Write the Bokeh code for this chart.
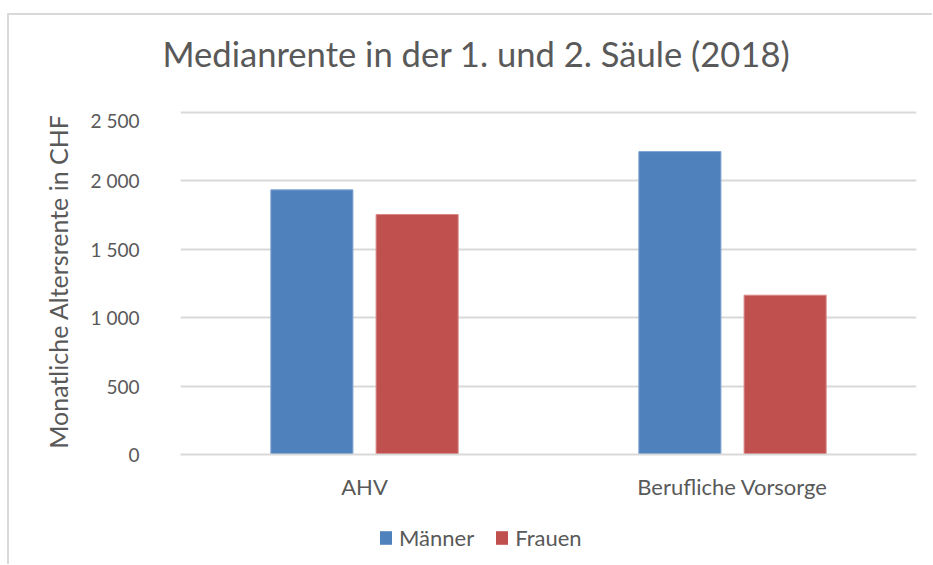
from bokeh.plotting import figure
from bokeh.layouts import column
from bokeh.models import FactorRange, Legend, LegendItem, ColumnDataSource, FixedTicker
from bokeh.transform import dodge
from bokeh.embed import file_html
from bokeh.resources import INLINE

# ---- data ----
categories = ["AHV", "Berufliche Vorsorge"]
maenner = [1935, 2215]
frauen = [1755, 1165]
series_names = ["Männer", "Frauen"]
y_ticks = [0, 500, 1000, 1500, 2000, 2500]
y_tick_labels = ["0", "500", "1 000", "1 500", "2 000", "2 500"]
title_text = "Medianrente in der 1. und 2. Säule (2018)"
y_label = "Monatliche Altersrente in CHF"

FONT = "Lato"
TXT = "#595959"
GRID = "#D9D9D9"
BLUE = "#4F81BD"
RED = "#C0504D"
W = 923

src = ColumnDataSource(dict(cat=categories, m=maenner, f=frauen))

# ---- title strip ----
pt = figure(width=W, height=93, x_axis_type=None, y_axis_type=None,
            output_backend="svg", toolbar_location=None, min_border=0,
            min_border_left=171, min_border_right=16)
pt.outline_line_color = None
pt.xgrid.grid_line_color = None
pt.ygrid.grid_line_color = None
pt.title.text = title_text
pt.title.align = "left"
pt.title.offset = -18
pt.title.text_font = FONT
pt.title.text_font_size = "34.6px"
pt.title.text_font_style = "normal"
pt.title.text_color = TXT
pt.title.standoff = 30

# ---- main chart ----
p = figure(
    x_range=FactorRange(*categories, range_padding=0),
    y_range=(0, 2530),
    width=W, height=412, title=None,
    output_backend="svg", toolbar_location=None,
    min_border_left=171, min_border_right=16,
    min_border_top=0, min_border_bottom=66,
)

r1 = p.vbar(x=dodge("cat", -0.143, range=p.x_range), top="m", width=0.223, source=src,
            fill_color=BLUE, line_color="#7FA3D1", line_width=1)
r2 = p.vbar(x=dodge("cat", 0.143, range=p.x_range), top="f", width=0.223, source=src,
            fill_color=RED, line_color="#D98A88", line_width=1)

p.yaxis.ticker = FixedTicker(ticks=y_ticks)
p.yaxis.major_label_overrides = {t: l for t, l in zip(y_ticks, y_tick_labels)}
p.yaxis.axis_line_color = None
p.yaxis.major_tick_line_color = None
p.yaxis.minor_tick_line_color = None
p.yaxis.major_label_standoff = 35
p.yaxis.major_label_text_font = FONT
p.yaxis.major_label_text_font_size = "19px"
p.yaxis.major_label_text_color = TXT
p.yaxis.axis_label = y_label
p.yaxis.axis_label_text_font = FONT
p.yaxis.axis_label_text_font_size = "25px"
p.yaxis.axis_label_text_font_style = "normal"
p.yaxis.axis_label_text_color = TXT
p.yaxis.axis_label_standoff = 15

p.xaxis.axis_line_color = GRID
p.xaxis.axis_line_width = 2
p.xaxis.major_tick_line_color = None
p.xaxis.minor_tick_line_color = None
p.xaxis.major_label_standoff = 12
p.xaxis.major_label_text_font = FONT
p.xaxis.major_label_text_font_size = "22px"
p.xaxis.major_label_text_color = TXT

p.xgrid.grid_line_color = None
p.ygrid.grid_line_color = GRID
p.ygrid.grid_line_width = 2
p.outline_line_color = None

# ---- legend strip ----
pl = figure(width=W, height=44, x_range=FactorRange(*categories, range_padding=0),
            y_range=(0, 1), x_axis_type=None, y_axis_type=None,
            output_backend="svg", toolbar_location=None, min_border=0,
            min_border_left=171, min_border_right=16)
pl.outline_line_color = None
pl.xgrid.grid_line_color = None
pl.ygrid.grid_line_color = None
lr1 = pl.vbar(x="cat", top="m", width=0.2, source=src, fill_color=BLUE,
              line_color=None, visible=False)
lr2 = pl.vbar(x="cat", top="f", width=0.2, source=src, fill_color=RED,
              line_color=None, visible=False)

legend = Legend(
    items=[LegendItem(label=series_names[0], renderers=[lr1]),
           LegendItem(label=series_names[1], renderers=[lr2])],
    orientation="horizontal",
    location=(198, 13),
    padding=0, margin=0, spacing=20,
    glyph_width=15, glyph_height=17, label_standoff=6,
    label_text_font=FONT, label_text_font_size="22px", label_text_color=TXT,
    border_line_color=None, background_fill_alpha=0,
)
pl.add_layout(legend, "center")

layout = column(pt, p, pl, spacing=0)
layout.styles = {"border-left": "2px solid #D9D9D9", "border-top": "2px solid #D9D9D9",
                 "margin-top": "13px", "margin-left": "7px"}

open("out.html", "w").write(file_html(layout, INLINE))
